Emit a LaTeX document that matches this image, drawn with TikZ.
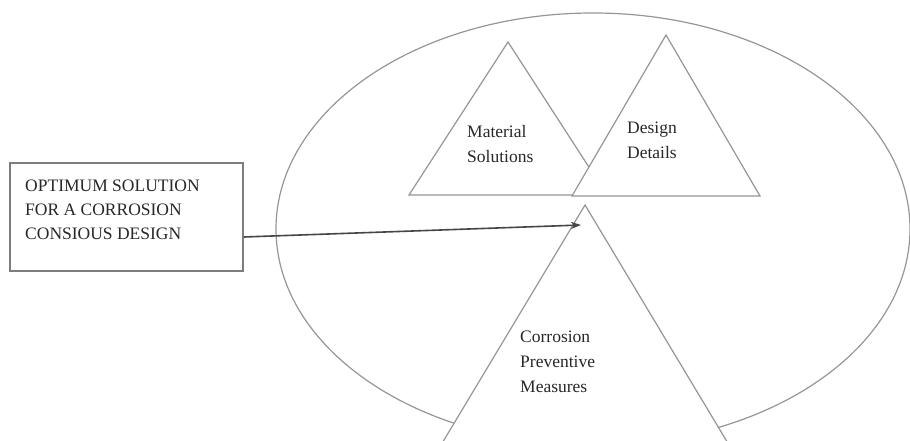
\documentclass[tikz,border=0pt]{standalone}
\usepackage{fontspec}
\setmainfont{Liberation Serif}
\usetikzlibrary{arrows.meta}
\definecolor{lineg}{RGB}{150,150,150}
\definecolor{boxg}{RGB}{125,125,125}
\definecolor{arrg}{RGB}{70,70,70}
\definecolor{txt}{RGB}{40,40,40}
\begin{document}
\begin{tikzpicture}[x=1pt,y=-1pt,
  shapeline/.style={draw=lineg, line width=1.2pt, line join=miter},
  boxst/.style={draw=boxg, line width=1.6pt, inner sep=0pt, fill=white},
  lbl/.style={anchor=north west, inner sep=0pt, align=left, text=txt,
    font=\fontsize{17.5}{25}\selectfont},
  boxlbl/.style={anchor=north west, inner sep=0pt, align=left, text=txt,
    font=\fontsize{17.5}{24}\selectfont},
  arrowst/.style={draw=arrg, line width=1.6pt, -{Stealth[length=10pt,width=7pt]}}]
\useasboundingbox (0,0) rectangle (910,441);
\clip (0,0) rectangle (910,441);
\fill[white] (0,0) rectangle (910,441);
% big ellipse
\draw[shapeline] (593,229) ellipse [x radius=317, y radius=216];
% triangles
\draw[shapeline, fill=white] (508,42) -- (607,195) -- (409,195) -- cycle;
\draw[shapeline, fill=white] (666,35) -- (760,196) -- (572,196) -- cycle;
\draw[shapeline, fill=white] (585,205) -- (729,445) -- (441,445) -- cycle;
% labels
\node[lbl] (mat) at (467,125) {Material\\Solutions};
\node[lbl] (des) at (627,122) {Design\\Details};
\node[lbl] (cor) at (520,331) {Corrosion\\Preventive\\Measures};
% box
\node[boxst, minimum width=233pt, minimum height=108pt] (box) at (126.5,217) {};
\node[boxlbl] (boxtext) at (25,180) {OPTIMUM SOLUTION\\FOR A CORROSION\\CONSIOUS DESIGN};
% arrow
\coordinate (tip) at (581,225);
\draw[arrowst] ([yshift=-20pt]box.east) -- (tip);
\end{tikzpicture}
\end{document}
